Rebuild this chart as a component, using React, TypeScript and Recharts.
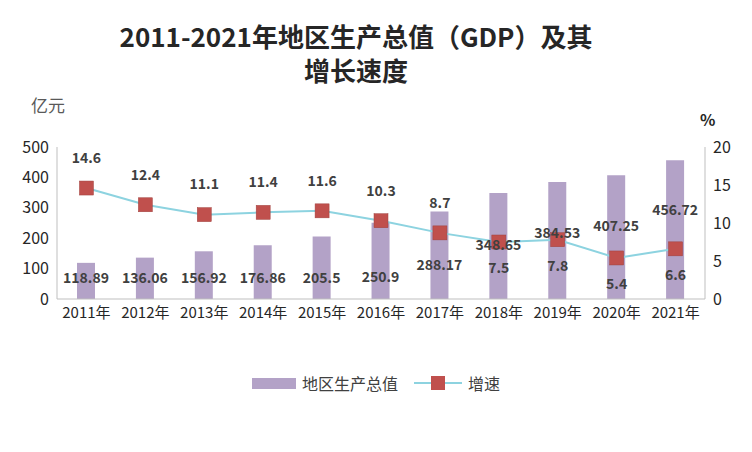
import { ComposedChart, Bar, Line, XAxis, YAxis } from 'recharts'

const years = ['2011年', '2012年', '2013年', '2014年', '2015年', '2016年', '2017年', '2018年', '2019年', '2020年', '2021年']
const gdp = [118.89, 136.06, 156.92, 176.86, 205.5, 250.9, 288.17, 348.65, 384.53, 407.25, 456.72]
const growth = [14.6, 12.4, 11.1, 11.4, 11.6, 10.3, 8.7, 7.5, 7.8, 5.4, 6.6]
const leftTicks = [0, 100, 200, 300, 400, 500]
const rightTicks = [0, 5, 10, 15, 20]

const data = years.map((y, i) => ({ year: y, gdp: gdp[i], growth: growth[i] }))

const font = 'Microsoft YaHei, "Noto Sans CJK SC", sans-serif'

const BarLabel = (props: any) => {
  const { x, width, y, height, value } = props
  const bottom = y + height
  const ly = bottom - 20 - Math.max(0, value - 250) * 0.33
  return (
    <text x={x + width / 2} y={ly} textAnchor="middle" dominantBaseline="middle" fontSize={14} fontWeight="bold" fill="#404040" fontFamily={font}>
      {value}
    </text>
  )
}

const LineLabel = (props: any) => {
  const { x, y, value, index } = props
  const ly = index >= 7 ? y + 27 : y - 29
  return (
    <text x={x} y={ly} textAnchor="middle" dominantBaseline="middle" fontSize={14} fontWeight="bold" fill="#404040" fontFamily={font}>
      {value}
    </text>
  )
}

const Square = (props: any) => {
  const { cx, cy } = props
  return <rect x={cx - 7} y={cy - 7} width={14} height={14} fill="#C0504D" stroke="#A0403D" strokeWidth={0.5} />
}

export default function App() {
  return (
    <div style={{ position: 'relative', width: 750, height: 450, border: '1px solid #d9d9d9', background: '#fff', fontFamily: font, margin: -8 }}>
      <div style={{ position: 'absolute', left: 0, width: 710, top: 18, textAlign: 'center', fontSize: 26, fontWeight: 'bold', color: '#262626', lineHeight: '34px' }}>
        2011-2021年地区生产总值（GDP）及其<br />增长速度
      </div>
      <div style={{ position: 'absolute', left: 30, top: 91, fontSize: 17, color: '#595959' }}>亿元</div>
      <div style={{ position: 'absolute', left: 699, top: 106, fontSize: 16, fontWeight: 'bold', color: '#262626' }}>%</div>
      <ComposedChart width={750} height={338} data={data} margin={{ top: 146, right: 10, left: 0, bottom: 10 }} style={{ position: 'absolute', left: 0, top: 0 }}>
        <XAxis dataKey="year" tick={{ fill: '#262626', fontSize: 15 }} tickLine={false} axisLine={{ stroke: '#bfbfbf' }} interval={0} height={30} />
        <YAxis yAxisId="l" domain={[0, 500]} ticks={leftTicks} tick={{ fill: '#262626', fontSize: 16 }} tickLine={false} axisLine={{ stroke: '#bfbfbf' }} width={56} />
        <YAxis yAxisId="r" orientation="right" domain={[0, 20]} ticks={rightTicks} tick={{ fill: '#262626', fontSize: 16 }} tickLine={false} axisLine={{ stroke: '#bfbfbf' }} width={36} />
        <Bar yAxisId="l" dataKey="gdp" name="地区生产总值" fill="#B3A2C7" barSize={18} isAnimationActive={false} label={<BarLabel />} />
        <Line yAxisId="r" dataKey="growth" name="增速" stroke="#8DD3E0" strokeWidth={2} dot={<Square />} isAnimationActive={false} label={<LineLabel />} />
      </ComposedChart>
      <div style={{ position: 'absolute', top: 370, left: 0, width: 750, display: 'flex', justifyContent: 'center', alignItems: 'center', fontSize: 16, color: '#404040', gap: 6 }}>
        <span style={{ display: 'inline-block', width: 44, height: 11, background: '#B3A2C7' }} />
        <span style={{ marginRight: 10 }}>地区生产总值</span>
        <span style={{ position: 'relative', display: 'inline-block', width: 48, height: 14 }}>
          <span style={{ position: 'absolute', left: 0, right: 0, top: 6, height: 2, background: '#8DD3E0' }} />
          <span style={{ position: 'absolute', left: 17, top: 0, width: 14, height: 14, background: '#C0504D' }} />
        </span>
        <span>增速</span>
      </div>
    </div>
  )
}
